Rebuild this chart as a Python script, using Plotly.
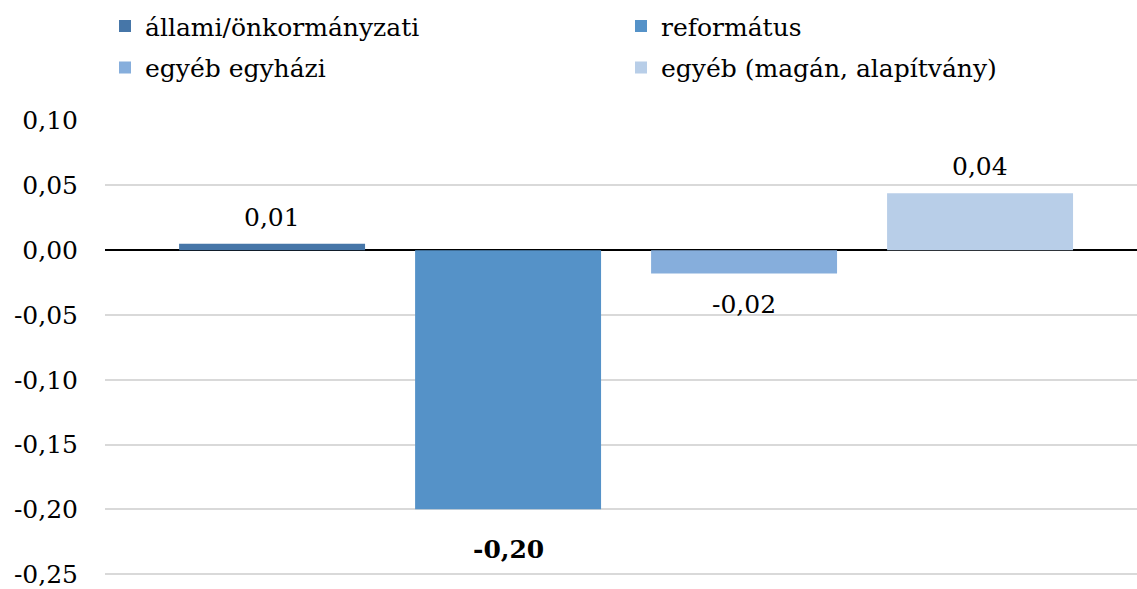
import plotly.graph_objects as go

_FONT = "DejaVu Serif"

series_names = ["állami/önkormányzati", "református", "egyéb egyházi", "egyéb (magán, alapítvány)"]
series_values = [0.005, -0.200, -0.018, 0.044]
series_labels = ["0,01", "<b>-0,20</b>", "-0,02", "0,04"]
series_colors = ["#4676A8", "#5592C8", "#86AEDC", "#B8CEE8"]
series_legend = ["legend", "legend2", "legend", "legend2"]

tick_vals = [0.10, 0.05, 0.00, -0.05, -0.10, -0.15, -0.20, -0.25]
tick_text = ["0,10", "0,05", "0,00", "-0,05", "-0,10", "-0,15", "-0,20", "-0,25"]

fig = go.Figure()
for name, val, col, leg in zip(series_names, series_values, series_colors, series_legend):
    fig.add_trace(go.Bar(
        x=[name], y=[val], name=name, legend=leg, legendgroup=name,
        marker=dict(color=col, line=dict(width=0)),
    ))

# adatcímkék az oszlopok fölött/alatt
for name, val, lab in zip(series_names, series_values, series_labels):
    fig.add_annotation(
        x=name, y=val, text=lab, showarrow=False,
        yanchor="bottom" if val >= 0 else "top",
        yshift=10 if val >= 0 else (-24 if "<b>" in lab else -14),
        font=dict(family=_FONT, size=25, color="#000000"),
    )

_leg = dict(orientation="v", xanchor="left", yanchor="top", y=1.255,
            font=dict(family=_FONT, size=25, color="#000000"),
            tracegroupgap=6, itemwidth=30, bgcolor="rgba(0,0,0,0)")

fig.update_layout(
    width=1137, height=589, plot_bgcolor="white", paper_bgcolor="white",
    font=dict(family=_FONT, size=25, color="#000000"),
    barmode="relative", bargap=0.212, showlegend=True,
    margin=dict(l=105, r=0, t=120, b=9),
    legend=dict(_leg, x=0.0),
    legend2=dict(_leg, x=0.5),
    yaxis=dict(range=[-0.253, 0.1005], tickvals=tick_vals, ticktext=tick_text,
               showgrid=True, gridcolor="#D9D9D9", gridwidth=2,
               zeroline=True, zerolinecolor="#000000", zerolinewidth=2,
               showline=False, ticks="", ticklabelstandoff=26,
               ticklabeloverflow="allow"),
    xaxis=dict(type="category", range=[-0.708, 3.665], showticklabels=False,
               showgrid=False, showline=False, ticks=""),
)

fig.write_html("out.html", config={"displayModeBar": False},
               post_script="document.body.style.margin='0';document.body.style.overflow='hidden';")
